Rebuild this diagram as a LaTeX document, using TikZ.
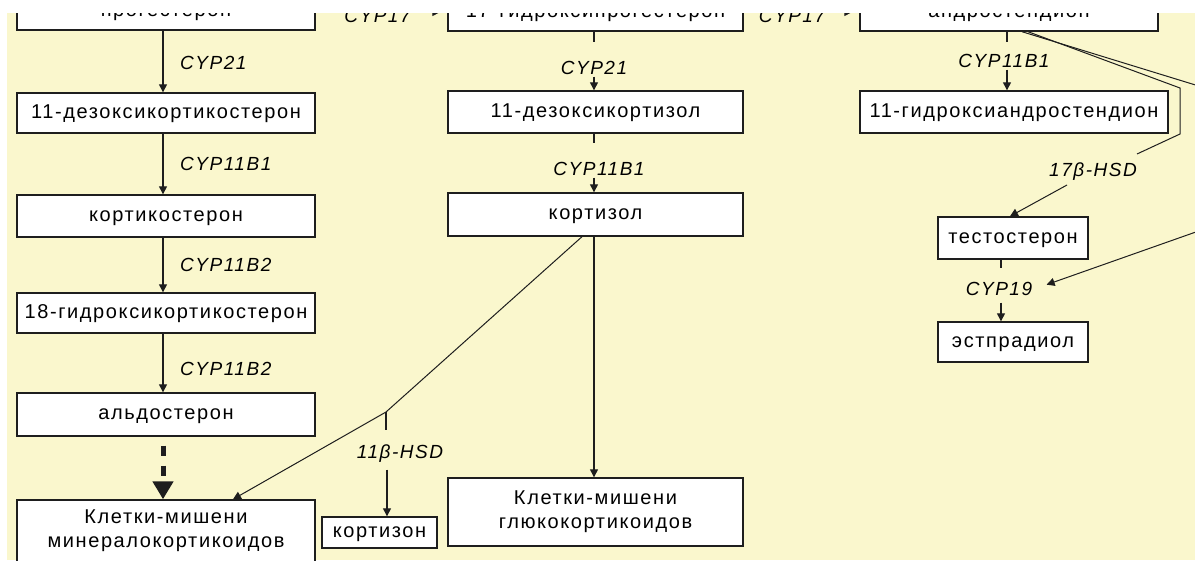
\documentclass[tikz,border=0pt]{standalone}
\usepackage{fontspec}
\setmainfont{Liberation Sans}[LetterSpace=8]
\usetikzlibrary{arrows.meta}
\definecolor{bgy}{RGB}{250,247,205}
\definecolor{ink}{RGB}{30,30,30}
\tikzset{
  box/.style={draw=ink, line width=1.4pt, fill=white, inner sep=0pt,
    font=\fontsize{20pt}{24pt}\selectfont, text height=14pt, text depth=4pt},
  topbox/.style={box, text depth=1pt},
  boxtwo/.style={draw=ink, line width=1.4pt, fill=white, inner sep=0pt,
    font=\fontsize{20pt}{24pt}\selectfont, align=center},
  lab/.style={inner sep=2pt, font=\fontsize{19pt}{22pt}\selectfont\itshape,
    text height=13pt, text depth=0pt},
  conn/.style={draw=ink, line width=1.3pt},
  arr/.style={conn, -{Triangle[width=8pt,length=8pt]}},
  thinline/.style={draw=ink, line width=1pt},
  thinarr/.style={thinline, -{Triangle[width=8pt,length=8pt]}},
  fatarr/.style={draw=ink, line width=5pt, dash pattern=on 10pt off 10pt,
    -{Triangle[width=20pt,length=18pt]}}
}
\begin{document}
\begin{tikzpicture}[x=1pt,y=-1pt]
\useasboundingbox (0,0) rectangle (1195,560);
\fill[white] (0,0) rectangle (1195,560);
\fill[bgy] (7,13) rectangle (1195,560);

% helper coordinates
\coordinate (lx) at (163,0);
\coordinate (mx) at (594,0);
\coordinate (rx) at (1007,0);
\coordinate (tx) at (1001,0);
\coordinate (kx) at (387,0);
\coordinate (dx) at (582,0);
\coordinate (ex) at (233,0);
\coordinate (ty) at (0,12);

% left column
\node[topbox, minimum width=298pt, minimum height=40pt] (l1) at (166,10) {прогестерон};
\node[box, minimum width=298pt, minimum height=40pt] (l2) at (166,113) {11-дезоксикортикостерон};
\node[box, minimum width=298pt, minimum height=42pt] (l3) at (166,216) {кортикостерон};
\node[box, minimum width=298pt, minimum height=40pt] (l4) at (166,313) {18-гидроксикортикостерон};
\node[box, minimum width=298pt, minimum height=43pt] (l5) at (166,414.5) {альдостерон};
\node[boxtwo, minimum width=298pt, minimum height=62pt] (l6) at (166,531) {Клетки-мишени\\минералокортикоидов};

% middle column
\node[topbox, minimum width=295pt, minimum height=40pt] (m1) at (595.5,11) {17-гидроксипрогестерон};
\node[box, minimum width=295pt, minimum height=42pt] (m2) at (595.5,112) {11-дезоксикортизол};
\node[box, minimum width=295pt, minimum height=43pt] (m3) at (595.5,214.5) {кортизол};
\node[boxtwo, minimum width=295pt, minimum height=68pt] (m4) at (595.5,512) {Клетки-мишени\\глюкокортикоидов};
\node[box, minimum width=115pt, minimum height=31pt] (k) at (379.5,532.5) {кортизон};

% right column
\node[topbox, minimum width=298pt, minimum height=40pt] (r1) at (1009,11) {андростендион};
\node[box, minimum width=308pt, minimum height=42pt] (r2) at (1014,112) {11-гидроксиандростендион};
\node[box, minimum width=150pt, minimum height=42pt] (r3) at (1013,238) {тестостерон};
\node[box, minimum width=150pt, minimum height=40pt] (r4) at (1013,342) {эстпрадиол};

% left column connectors
\draw[arr] (l1.south -| lx) -- (l2.north -| lx);
\draw[arr] (l2.south -| lx) -- (l3.north -| lx);
\draw[arr] (l3.south -| lx) -- (l4.north -| lx);
\draw[arr] (l4.south -| lx) -- (l5.north -| lx);
\draw[fatarr, shorten <=9pt] (l5.south -| lx) -- (l6.north -| lx);
\node[lab, anchor=west] (c1) at (178,63) {CYP21};
\node[lab, anchor=west] (c2) at (178,164) {CYP11B1};
\node[lab, anchor=west] (c3) at (178,265) {CYP11B2};
\node[lab, anchor=west] (c4) at (178,369) {CYP11B2};

% CYP17 arrows at top
\node[lab] (ca) at (377.5,15.5) {CYP17};
\node[lab] (cb) at (792,15.5) {CYP17};
\draw[arr, shorten >=7pt] (ca.east |- ty) -- (m1.west |- ty);
\draw[arr, shorten >=7pt] (cb.east |- ty) -- (r1.west |- ty);

% middle column connectors
\coordinate (s1) at (594,42);
\draw[conn] (m1.south -| mx) -- (s1);
\node[lab] (cm1) at (594,68) {CYP21};
\draw[arr] (cm1.south -| mx) -- (m2.north -| mx);
\coordinate (s2) at (594,143);
\draw[conn] (m2.south -| mx) -- (s2);
\node[lab] (cm2) at (599,169) {CYP11B1};
\draw[arr] (cm2.south -| mx) -- (m3.north -| mx);
\draw[arr] (m3.south -| mx) -- (m4.north -| mx);

% cortisol to mineralocorticoid targets, branch to cortisone
\coordinate (bend) at (386,412);
\draw[thinarr] (m3.south -| dx) -- (bend) -- (l6.north -| ex);
\coordinate (s3) at (386,430);
\draw[conn] (bend) -- (s3);
\node[lab] (hsd1) at (400,452) {11β-HSD};
\draw[arr, shorten <=9pt] (hsd1.south -| kx) -- (k.north -| kx);

% right column connectors
\coordinate (s5) at (1007,42);
\draw[conn] (r1.south -| rx) -- (s5);
\node[lab] (cr1) at (1004,61) {CYP11B1};
\draw[arr] (cr1.south -| rx) -- (r2.north -| rx);

\coordinate (ua) at (1022,0);
\coordinate (ub) at (1028,0);
\coordinate (uend) at (1215,91);
\draw[thinline] (r1.south -| ua) -- (uend);
\coordinate (p1) at (1180,88);
\coordinate (p2) at (1180,134);
\coordinate (p3) at (1137,154);
\draw[thinline] (r1.south -| ub) -- (p1) -- (p2) -- (p3);
\node[lab] (h17) at (1093,170) {17β-HSD};
\coordinate (q1) at (1067,185);
\coordinate (qx) at (1010,0);
\draw[thinarr] (q1) -- (r3.north -| qx);

\coordinate (s6) at (1001,268);
\draw[conn] (r3.south -| tx) -- (s6);
\node[lab] (c19) at (999,289) {CYP19};
\draw[arr, shorten <=5pt] (c19.south -| tx) -- (r4.north -| tx);
\coordinate (bstart) at (1210,227);
\draw[thinarr, shorten >=13pt] (bstart) -- (c19.east);

% top white strip
\fill[white] (0,0) rectangle (1195,13);
\end{tikzpicture}
\end{document}
